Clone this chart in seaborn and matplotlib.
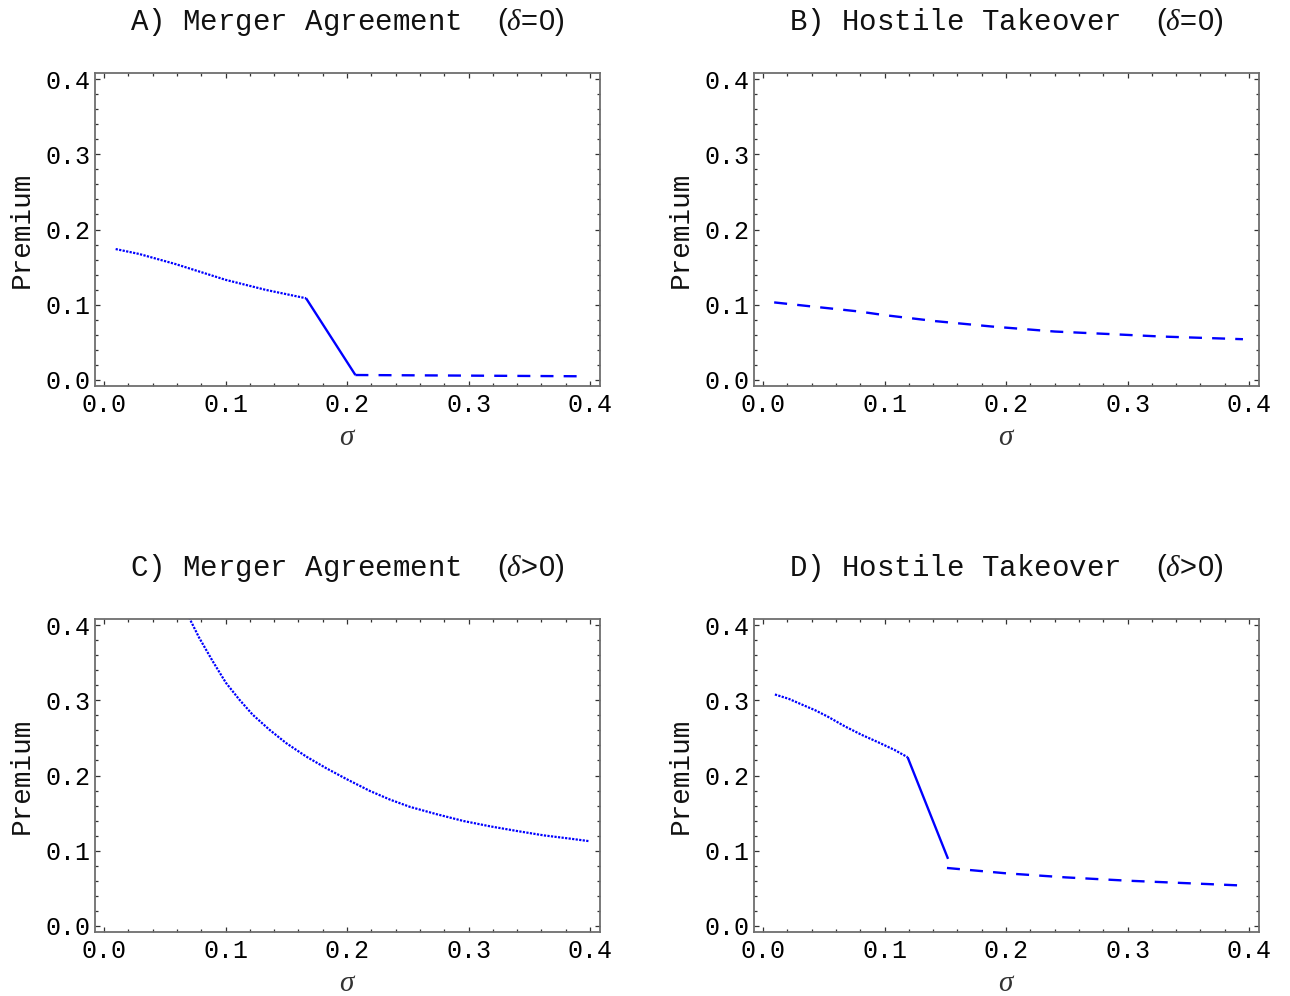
import matplotlib
matplotlib.use("Agg")
import matplotlib.pyplot as plt
import seaborn as sns
import pandas as pd
from matplotlib.ticker import MultipleLocator, FormatStrFormatter

sns.set_theme(style="white")
plt.rcParams['font.family'] = ['Liberation Mono', 'DejaVu Sans']
plt.rcParams['mathtext.fontset'] = 'custom'
plt.rcParams['mathtext.rm'] = 'Liberation Sans'
plt.rcParams['mathtext.it'] = 'Liberation Serif:italic'

# ---------------- data ----------------
titles = ["A) Merger Agreement  $(\\delta\\!=\\!0)$",
          "B) Hostile Takeover  $(\\delta\\!=\\!0)$",
          "C) Merger Agreement  $(\\delta\\!>\\!0)$",
          "D) Hostile Takeover  $(\\delta\\!>\\!0)$"]
xticks = [0.0, 0.1, 0.2, 0.3, 0.4]
yticks = [0.0, 0.1, 0.2, 0.3, 0.4]

# Panel A
a_dot_x = [0.0096, 0.0289, 0.059, 0.1003, 0.1333, 0.1663]
a_dot_y = [0.174, 0.1675, 0.154, 0.133, 0.1197, 0.1086]
a_sol_x = [0.1663, 0.2069]
a_sol_y = [0.1086, 0.0066]
a_dash_x = [0.2069, 0.30, 0.3946]
a_dash_y = [0.0066, 0.0058, 0.0049]

# Panel B
b_dash_x = [0.0092, 0.0396, 0.0786, 0.100, 0.142, 0.188, 0.240, 0.287, 0.327, 0.395]
b_dash_y = [0.1031, 0.0978, 0.0911, 0.0862, 0.0782, 0.0711, 0.0644, 0.0609, 0.0578, 0.0542]

# Panel C
c_dot_x = [0.070, 0.0782, 0.0893, 0.1003, 0.1113, 0.1223, 0.1361, 0.1499, 0.1664,
           0.183, 0.1995, 0.2188, 0.2353, 0.2518, 0.2739, 0.2959, 0.3179, 0.340,
           0.362, 0.384, 0.399]
c_dot_y = [0.410, 0.3835, 0.3523, 0.3233, 0.301, 0.2809, 0.2609, 0.2431, 0.2252,
           0.2096, 0.1953, 0.1795, 0.1680, 0.1583, 0.1485, 0.1395, 0.1324, 0.1262,
           0.1204, 0.1160, 0.1128]

# Panel D
d_dot_x = [0.0098, 0.0212, 0.032, 0.043, 0.0538, 0.0674, 0.081, 0.0945, 0.1081, 0.1190]
d_dot_y = [0.3077, 0.3019, 0.2943, 0.2867, 0.2778, 0.2653, 0.2542, 0.2444, 0.2341, 0.2243]
d_sol_x = [0.1190, 0.1523]
d_sol_y = [0.2243, 0.0892]
d_dash_x = [0.1514, 0.200, 0.249, 0.300, 0.397]
d_dash_y = [0.0771, 0.0700, 0.0646, 0.0602, 0.0536]

panels = [
    [(a_dot_x, a_dot_y, 'dot'), (a_sol_x, a_sol_y, 'solid'), (a_dash_x, a_dash_y, 'dash')],
    [(b_dash_x, b_dash_y, 'dash')],
    [(c_dot_x, c_dot_y, 'dot')],
    [(d_dot_x, d_dot_y, 'dot'), (d_sol_x, d_sol_y, 'solid'), (d_dash_x, d_dash_y, 'dash')],
]

styles = {
    'dot': dict(linestyle=(0, (1.0, 0.6)), linewidth=1.6),
    'solid': dict(linestyle='-', linewidth=1.7),
    'dash': dict(linestyle=(0, (5.5, 4.3)), linewidth=1.7),
}

# ---------------- figure ----------------
W, H = 1290, 996
fig = plt.figure(figsize=(W / 100, H / 100), dpi=100)
fig.patch.set_facecolor('white')

lefts = [95, 754]
tops = [73, 619]
aw, ah = 505, 313

frame_col = '#6e6e6e'
tick_col = '#333333'

for i, segs in enumerate(panels):
    r, c = divmod(i, 2)
    l = lefts[c]
    t = tops[r]
    ax = fig.add_axes([l / W, (H - t - ah) / H, aw / W, ah / H])
    ax.set_facecolor('white')
    for x, y, st in segs:
        df = pd.DataFrame({'x': x, 'y': y})
        sns.lineplot(data=df, x='x', y='y', ax=ax, color='blue', sort=False,
                     estimator=None, solid_capstyle='butt', dash_capstyle='butt',
                     **styles[st])
    ax.set_xlim(-0.0074, 0.4082)
    ax.set_ylim(-0.008, 0.408)
    ax.set_xticks(xticks)
    ax.set_yticks(yticks)
    ax.xaxis.set_minor_locator(MultipleLocator(0.02))
    ax.yaxis.set_minor_locator(MultipleLocator(0.02))
    ax.xaxis.set_major_formatter(FormatStrFormatter('%.1f'))
    ax.yaxis.set_major_formatter(FormatStrFormatter('%.1f'))
    ax.tick_params(which='both', direction='in', top=True, right=True,
                   bottom=True, left=True, color=tick_col, width=0.9)
    ax.tick_params(which='major', length=3.5)
    ax.tick_params(which='minor', length=2.0)
    ax.tick_params(axis='x', which='major', labelsize=18, pad=5, labelcolor='black')
    ax.tick_params(axis='y', which='major', labelsize=18, pad=3, labelcolor='black')
    for s in ax.spines.values():
        s.set_color(frame_col)
        s.set_linewidth(1.3)
        s.set_visible(True)
    ax.set_xlabel('')
    ax.set_ylabel('')
    ax.grid(False)
    ax.text(0.5, 1 + 51 / ah, titles[i], transform=ax.transAxes,
            ha='center', va='center', fontsize=21, color='#111111')
    ax.text(-73 / aw, 0.5, 'Premium', transform=ax.transAxes, rotation=90,
            ha='center', va='center', fontsize=20, color='#111111')
    ax.text(0.5, -51 / ah, r'$\sigma$', transform=ax.transAxes,
            ha='center', va='center', fontsize=21, color='#333333')

fig.savefig('out.png', dpi=100, facecolor='white')
